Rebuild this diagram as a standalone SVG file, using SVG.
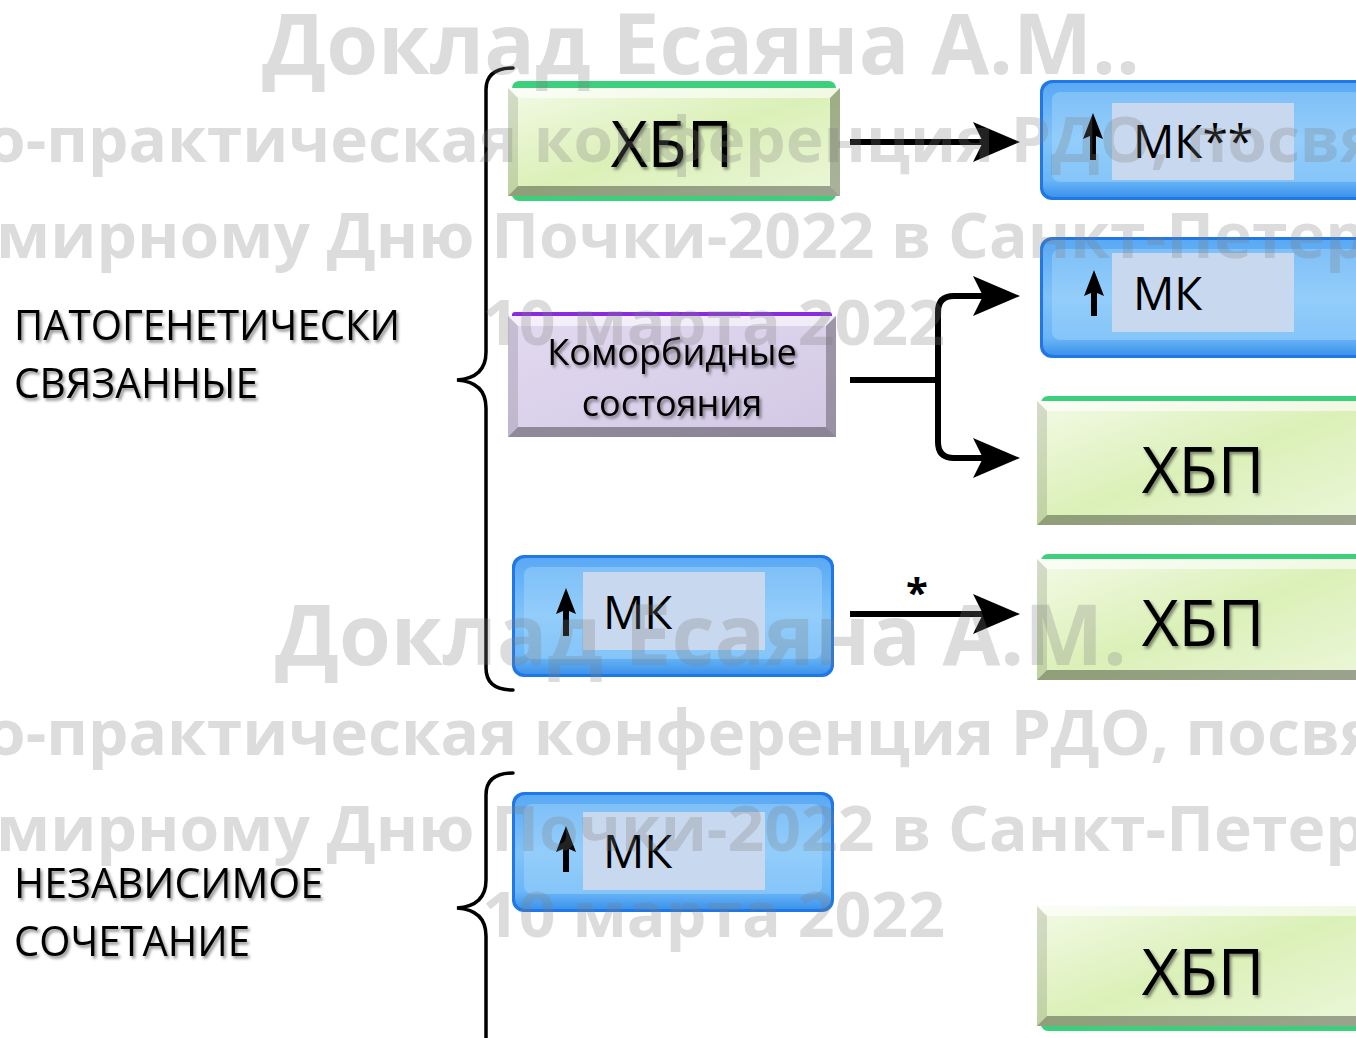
<svg xmlns="http://www.w3.org/2000/svg" width="1356" height="1038" viewBox="0 0 1356 1038">
<defs>
<style>
.lbl{font-family:"Open Sans","Noto Sans",sans-serif;fill:#000;}
.big{font-size:64px;}
.mk{font-size:46px;}
.cm{font-size:36px;}
.side{font-size:42px;}
.wm{font-family:"Open Sans","Noto Sans",sans-serif;font-weight:bold;fill:#7f7f7f;fill-opacity:0.27;}
.brace{fill:none;stroke:#000;stroke-width:3.5;stroke-linecap:round;}
.conn{fill:none;stroke:#000;stroke-width:6;}
.panel{fill:#c8d8ee;}
.bvT{fill:#fff;fill-opacity:0.6;}
.bvL{fill:#000;fill-opacity:0.12;}
.bvR{fill:#000;fill-opacity:0.28;}
.bvB{fill:#000;fill-opacity:0.34;}
</style>
<linearGradient id="gGreen" x1="0" y1="0" x2="1" y2="1">
<stop offset="0" stop-color="#f3fae6"/>
<stop offset="0.5" stop-color="#dbf0b8"/>
<stop offset="1" stop-color="#ecf7da"/>
</linearGradient>
<linearGradient id="gPurple" x1="0" y1="0" x2="1" y2="1">
<stop offset="0" stop-color="#e2daf0"/>
<stop offset="1" stop-color="#d2c8e4"/>
</linearGradient>
<linearGradient id="gBlue" x1="0" y1="0" x2="0" y2="1">
<stop offset="0" stop-color="#5aa9f4"/>
<stop offset="0.5" stop-color="#80c3f9"/>
<stop offset="0.85" stop-color="#6ab6f6"/>
<stop offset="1" stop-color="#3d93ec"/>
</linearGradient>
<filter id="sh" x="-10%" y="-20%" width="130%" height="150%">
<feDropShadow dx="2" dy="2.5" stdDeviation="1.5" flood-color="#000" flood-opacity="0.45"/>
</filter>
</defs>
<rect width="1356" height="1038" fill="#fff"/>

<!-- braces -->
<g id="braces">
<path class="brace" d="M513,68 Q486,68 486,90 L486,352 Q486,378 457,380 Q486,382 486,408 L486,668 Q486,690 513,690"/>
<path class="brace" d="M513,773 Q486,773 486,795 L486,880 Q486,906 457,908 Q486,910 486,936 L486,1045"/>
</g>

<!-- side labels -->
<g id="label-patho" filter="url(#sh)">
<text class="lbl side" x="14" y="340" textLength="386" lengthAdjust="spacingAndGlyphs">ПАТОГЕНЕТИЧЕСКИ</text>
<text class="lbl side" x="14" y="398" textLength="244" lengthAdjust="spacingAndGlyphs">СВЯЗАННЫЕ</text>
</g>
<g id="label-indep" filter="url(#sh)">
<text class="lbl side" x="14" y="898" textLength="309" lengthAdjust="spacingAndGlyphs">НЕЗАВИСИМОЕ</text>
<text class="lbl side" x="14" y="956" textLength="236" lengthAdjust="spacingAndGlyphs">СОЧЕТАНИЕ</text>
</g>

<!-- node: ХБП top -->
<g id="node-ckd-1">
<rect x="512" y="81" width="324" height="120" rx="7" fill="#3ccf7c"/>
<rect x="508" y="88" width="332" height="108" fill="url(#gGreen)"/>
<polygon class="bvT" points="508,88 840,88 830,98 518,98"/>
<polygon class="bvL" points="508,88 518,98 518,186 508,196"/>
<polygon class="bvR" points="840,88 840,196 830,186 830,98"/>
<polygon class="bvB" points="508,196 840,196 830,186 518,186"/>
<text class="lbl big" x="672" y="167" text-anchor="middle" filter="url(#sh)">ХБП</text>
</g>

<!-- node: МК** -->
<g id="node-mk-1">
<rect x="1040" y="80" width="330" height="120" rx="12" fill="#1f78e6"/>
<rect x="1043" y="83" width="324" height="114" rx="10" fill="url(#gBlue)"/>
<rect x="1052" y="92" width="310" height="90" rx="8" fill="#b0dcfc" fill-opacity="0.4"/>
<rect class="panel" x="1112" y="103" width="182" height="77"/>
<path d="M1093,113 L1103,139 L1096,136 L1096,160 L1090,160 L1090,136 L1083,139 Z" fill="#000"/>
<text class="lbl mk" x="1133" y="158">МК**</text>
</g>

<!-- node: МК (right) -->
<g id="node-mk-2">
<rect x="1040" y="237" width="330" height="121" rx="12" fill="#1f78e6"/>
<rect x="1043" y="240" width="324" height="115" rx="10" fill="url(#gBlue)"/>
<rect x="1052" y="249" width="310" height="91" rx="8" fill="#b0dcfc" fill-opacity="0.4"/>
<rect class="panel" x="1112" y="253" width="182" height="79"/>
<path d="M1094,270 L1104,296 L1097,293 L1097,316 L1091,316 L1091,293 L1084,296 Z" fill="#000"/>
<text class="lbl mk" x="1133" y="310">МК</text>
</g>

<!-- node: Коморбидные состояния -->
<g id="node-comorb">
<rect x="512" y="312" width="320" height="10" rx="3" fill="#8a2be2"/>
<rect x="508" y="316" width="328" height="121" fill="url(#gPurple)"/>
<polygon class="bvT" points="508,316 836,316 826,326 518,326"/>
<polygon class="bvL" points="508,316 518,326 518,427 508,437"/>
<polygon class="bvR" points="836,316 836,437 826,427 826,326"/>
<polygon class="bvB" points="508,437 836,437 826,427 518,427"/>
<text class="lbl cm" x="672" y="365" text-anchor="middle" filter="url(#sh)">Коморбидные</text>
<text class="lbl cm" x="672" y="416" text-anchor="middle" filter="url(#sh)">состояния</text>
</g>

<!-- node: ХБП 2 -->
<g id="node-ckd-2">
<rect x="1041" y="396" width="330" height="20" rx="7" fill="#3ccf7c"/>
<rect x="1037" y="401" width="333" height="124" fill="url(#gGreen)"/>
<polygon class="bvT" points="1037,401 1370,401 1360,411 1047,411"/>
<polygon class="bvL" points="1037,401 1047,411 1047,515 1037,525"/>
<polygon class="bvB" points="1037,525 1370,525 1360,515 1047,515"/>
<text class="lbl big" x="1203" y="493" text-anchor="middle" filter="url(#sh)">ХБП</text>
</g>

<!-- node: МК (left) -->
<g id="node-mk-3">
<rect x="512" y="555" width="322" height="122" rx="12" fill="#1f78e6"/>
<rect x="515" y="558" width="316" height="116" rx="10" fill="url(#gBlue)"/>
<rect x="524" y="567" width="298" height="92" rx="8" fill="#b0dcfc" fill-opacity="0.4"/>
<rect class="panel" x="583" y="572" width="182" height="78"/>
<path d="M566,588 L576,614 L569,611 L569,636 L563,636 L563,611 L556,614 Z" fill="#000"/>
<text class="lbl mk" x="603" y="629">МК</text>
</g>

<!-- node: ХБП 3 -->
<g id="node-ckd-3">
<rect x="1041" y="554" width="330" height="20" rx="7" fill="#3ccf7c"/>
<rect x="1037" y="559" width="333" height="121" fill="url(#gGreen)"/>
<polygon class="bvT" points="1037,559 1370,559 1360,569 1047,569"/>
<polygon class="bvL" points="1037,559 1047,569 1047,670 1037,680"/>
<polygon class="bvB" points="1037,680 1370,680 1360,670 1047,670"/>
<text class="lbl big" x="1203" y="646" text-anchor="middle" filter="url(#sh)">ХБП</text>
</g>

<!-- node: МК (bottom) -->
<g id="node-mk-4">
<rect x="512" y="792" width="322" height="120" rx="12" fill="#1f78e6"/>
<rect x="515" y="795" width="316" height="114" rx="10" fill="url(#gBlue)"/>
<rect x="524" y="804" width="298" height="90" rx="8" fill="#b0dcfc" fill-opacity="0.4"/>
<rect class="panel" x="583" y="812" width="182" height="78"/>
<path d="M566,826 L576,852 L569,849 L569,872 L563,872 L563,849 L556,852 Z" fill="#000"/>
<text class="lbl mk" x="603" y="868">МК</text>
</g>

<!-- node: ХБП 4 -->
<g id="node-ckd-4">
<rect x="1041" y="1010" width="330" height="21" rx="7" fill="#3ccf7c"/>
<rect x="1037" y="906" width="333" height="120" fill="url(#gGreen)"/>
<polygon class="bvT" points="1037,906 1370,906 1360,916 1047,916"/>
<polygon class="bvL" points="1037,906 1047,916 1047,1016 1037,1026"/>
<polygon class="bvB" points="1037,1026 1370,1026 1360,1016 1047,1016"/>
<text class="lbl big" x="1203" y="995" text-anchor="middle" filter="url(#sh)">ХБП</text>
</g>

<!-- connectors -->
<g id="connectors">
<path class="conn" d="M850,142 L985,142"/>
<path d="M1020,142 L973,122 L983,142 L973,162 Z" fill="#000"/>
<path class="conn" d="M850,380 L938,380"/>
<path class="conn" d="M985,296 L954,296 Q938,296 938,312 L938,442 Q938,458 954,458 L985,458"/>
<path d="M1020,296 L973,276 L983,296 L973,316 Z" fill="#000"/>
<path d="M1020,458 L973,438 L983,458 L973,478 Z" fill="#000"/>
<path class="conn" d="M850,614 L985,614"/>
<path d="M1020,614 L973,594 L983,614 L973,634 Z" fill="#000"/>
<text class="lbl" x="917" y="607" text-anchor="middle" font-size="40" font-weight="bold">*</text>
</g>

<!-- watermark -->
<g id="watermark" class="wm">
<text x="262" y="74" font-size="84" textLength="878" lengthAdjust="spacingAndGlyphs">Доклад Есаяна А.М..</text>
<text x="-14" y="162" font-size="62" textLength="1392" lengthAdjust="spacingAndGlyphs">о-практическая конференция РДО, посвя</text>
<text x="-4" y="258" font-size="62" textLength="1370" lengthAdjust="spacingAndGlyphs">мирному Дню Почки-2022 в Санкт-Петер</text>
<text x="482" y="345" font-size="63" textLength="463" lengthAdjust="spacingAndGlyphs">10 марта 2022</text>
<text x="275" y="665" font-size="84" textLength="852" lengthAdjust="spacingAndGlyphs">Доклад Есаяна А.М.</text>
<text x="-14" y="755" font-size="62" textLength="1392" lengthAdjust="spacingAndGlyphs">о-практическая конференция РДО, посвя</text>
<text x="-4" y="851" font-size="62" textLength="1370" lengthAdjust="spacingAndGlyphs">мирному Дню Почки-2022 в Санкт-Петер</text>
<text x="482" y="937" font-size="63" textLength="463" lengthAdjust="spacingAndGlyphs">10 марта 2022</text>
</g>
</svg>
